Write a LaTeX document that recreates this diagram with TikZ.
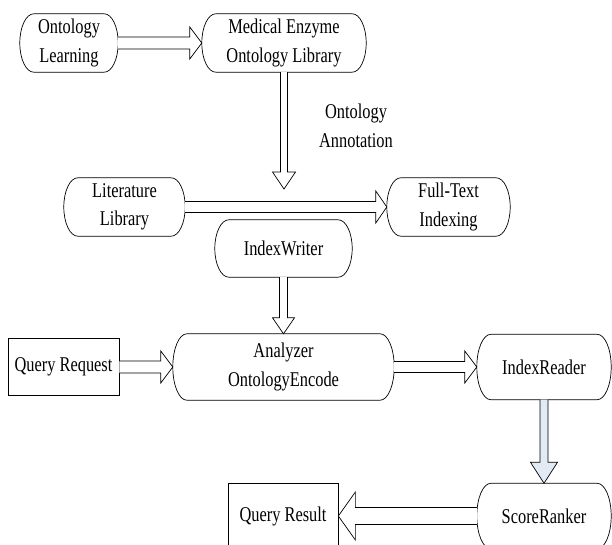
\documentclass[tikz,border=0pt]{standalone}
\usepackage{fontspec}
\setmainfont{Liberation Serif}[FakeStretch=0.78]
\usepackage{xcolor}
\definecolor{ArrowBlue}{HTML}{E2EAF5}
\usepackage{tikz}
\usetikzlibrary{calc}
\tikzset{
  flowpill/.style={
    draw=none,
    inner sep=0pt,
    align=center,
    font=\fontsize{21}{28.5}\selectfont
  },
  flowbox/.style={
    draw=black,
    line width=0.7pt,
    inner sep=0pt,
    align=center,
    font=\fontsize{21}{28.5}\selectfont
  },
  pillline/.style={
    draw=black,
    line width=0.7pt
  },
  flowarrow/.style={
    draw=black,
    line width=0.7pt,
    line join=miter
  }
}

\begin{document}
\begin{tikzpicture}[x=1pt,y=-1pt]
  \useasboundingbox (0,0) rectangle (612,545);
  \node[flowpill, minimum width=98pt, minimum height=58pt] (learn) at (69,43) {Ontology\\Learning};
  \node[flowpill, minimum width=164pt, minimum height=58pt] (medlib) at (284,43) {Medical Enzyme\\Ontology Library};
  \node[flowpill, minimum width=121pt, minimum height=58pt] (litlib) at (124.5,207) {Literature\\Library};
  \node[flowpill, minimum width=123pt, minimum height=58pt] (fulltext) at (448.5,207) {Full-Text\\Indexing};
  \node[flowpill, minimum width=137pt, minimum height=57pt] (writer) at (283.5,248.5) {IndexWriter};
  \node[flowbox, minimum width=111pt, minimum height=57pt] (query) at (63.5,367) {Query Request};
  \node[flowpill, minimum width=221pt, minimum height=66pt] (analyzer) at (283.5,367) {Analyzer\\OntologyEncode};
  \node[flowpill, minimum width=134pt, minimum height=65pt] (reader) at (544,367) {IndexReader};
  \node[flowpill, minimum width=134pt, minimum height=65pt] (ranker) at (544,516) {ScoreRanker};
  \node[flowbox, minimum width=110pt, minimum height=66pt] (result) at (283,516) {Query Result};
  \node[align=center, inner sep=0pt, font=\fontsize{21}{28.5}\selectfont] (annotlabel) at (356,126) {Ontology\\Annotation};
  \coordinate (annot) at (284,189);
  % rounded outlines
  \foreach \nd in {learn,medlib,litlib,fulltext,writer,analyzer,reader,ranker}{
    \draw[pillline] let \p1=($(\nd.north)-(\nd.south)$) in
      ([xshift=14pt]\nd.north west) -- ([xshift=-14pt]\nd.north east)
      arc[start angle=90, end angle=-90, x radius=14pt, y radius=0.5*\y1]
      -- ([xshift=14pt]\nd.south west)
      arc[start angle=270, end angle=90, x radius=14pt, y radius=0.5*\y1] -- cycle;
  }
  % block arrows: from/to/shaft/head/head length/fill
  \foreach \src/\dst/\sw/\hw/\hl/\fc in {
      learn.east/medlib.west/6pt/16pt/12pt/white,
      medlib.south/annot/3.5pt/11.5pt/17pt/white,
      litlib.east/fulltext.west/5.5pt/16pt/11pt/white,
      writer.south/analyzer.north/4pt/11pt/16pt/white,
      query.east/analyzer.west/6pt/16pt/12pt/white,
      analyzer.east/reader.west/5.5pt/16pt/12pt/white,
      reader.south/ranker.north/4pt/13.5pt/21pt/ArrowBlue,
      ranker.west/result.east/8.5pt/24pt/17pt/white}{
    \coordinate (hb) at ($(\dst)!\hl!(\src)$);
    \draw[flowarrow, fill=\fc] ($(\src)!\sw!90:(\dst)$) -- ($(hb)!\sw!90:(\dst)$)
      -- ($(hb)!\hw!90:(\dst)$) -- (\dst) -- ($(hb)!\hw!-90:(\dst)$)
      -- ($(hb)!\sw!-90:(\dst)$) -- ($(\src)!\sw!-90:(\dst)$);
  }
\end{tikzpicture}
\end{document}
